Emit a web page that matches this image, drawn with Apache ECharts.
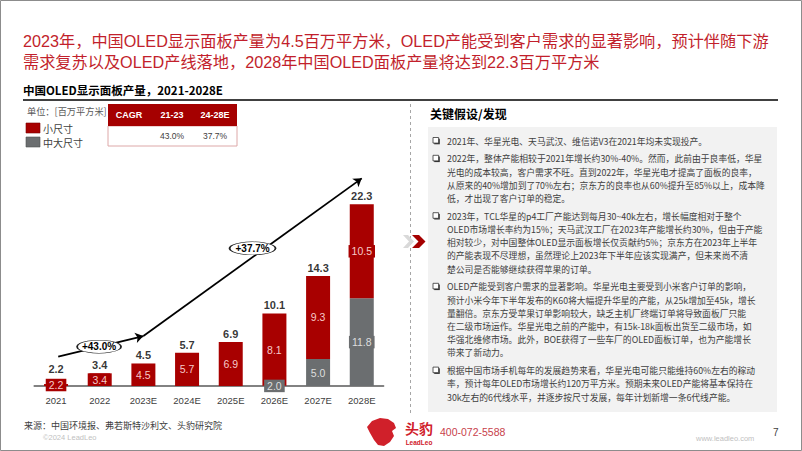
<!DOCTYPE html>
<html><head><meta charset="utf-8">
<script src="https://cdn.jsdelivr.net/npm/echarts@6/dist/echarts.min.js"></script>
<style>html,body{margin:0;padding:0;background:#fff}#c{width:802px;height:451px}</style>
</head><body><div id="c"></div>
<script>
// ---- data ----
const categories = ['2021','2022','2023E','2024E','2025E','2026E','2027E','2028E'];
const smallSize = [2.2, 3.4, 4.5, 5.7, 6.9, 8.1, 9.3, 10.5];       // 小尺寸
const midLargeSize = [null, null, null, null, null, 2.0, 5.0, 11.8]; // 中大尺寸
const totals = [2.2, 3.4, 4.5, 5.7, 6.9, 10.1, 14.3, 22.3];
const cagrHeaders = ['CAGR', '21-23', '24-28E'];
const cagrValues = ['', '43.0%', '37.7%'];
const growthLabels = ['+43.0%', '+37.7%'];

const titleLines = [
  '2023年，中国OLED显示面板产量为4.5百万平方米，OLED产能受到客户需求的显著影响，预计伴随下游',
  '需求复苏以及OLED产线落地，2028年中国OLED面板产量将达到22.3百万平方米'
];
const subTitle = '中国OLED显示面板产量，2021-2028E';
const paras = [
  ['2021年、华星光电、天马武汉、维信诺V3在2021年均未实现投产。'],
  ['2022年，整体产能相较于2021年增长约30%-40%。然而，此前由于良率低，华星',
   '光电的成本较高，客户需求不旺。直到2022年，华星光电才提高了面板的良率，',
   '从原来的40%增加到了70%左右；京东方的良率也从60%提升至85%以上，成本降',
   '低，才出现了客户订单的稳定。'],
  ['2023年，TCL华星的p4工厂产能达到每月30~40k左右，增长幅度相对于整个',
   'OLED市场增长率约为15%；天马武汉工厂在2023年产能增长约30%，但由于产能',
   '相对较少，对中国整体OLED显示面板增长仅贡献约5%；京东方在2023年上半年',
   '的产能表现不尽理想，虽然理论上2023年下半年应该实现满产，但未来尚不清',
   '楚公司是否能够继续获得苹果的订单。'],
  ['OLED产能受到客户需求的显著影响。华星光电主要受到小米客户订单的影响，',
   '预计小米今年下半年发布的K60将大幅提升华星的产能，从25k增加至45k，增长',
   '量翻倍。京东方受苹果订单影响较大，缺乏主机厂终端订单将导致面板厂只能',
   '在二级市场运作。华星光电之前的产能中，有15k-18k面板出货至二级市场，如',
   '华强北维修市场。此外，BOE获得了一些车厂的OLED面板订单，也为产能增长',
   '带来了新动力。'],
  ['根据中国市场手机每年的发展趋势来看，华星光电可能只能维持60%左右的稼动',
   '率，预计每年OLED市场增长约120万平方米。预期未来OLED产能将基本保持在',
   '30k左右的6代线水平，并逐步按尺寸发展，每年计划新增一条6代线产能。']
];

// ---- styles ----
const RED = '#A80000', GREY = '#6B6E70', TRED = '#C21F2C';
const CJK = '"Noto Sans CJK SC","Liberation Sans",sans-serif';
const LAT = '"Liberation Sans","Noto Sans CJK SC",sans-serif';

function txt(x, y, text, o) {
  o = o || {};
  return { type: 'text', silent: true, z: 10, style: {
    x: x, y: y, text: text, fill: o.fill || '#404040',
    fontSize: o.size || 10, fontFamily: o.family || CJK, fontWeight: o.weight || 'normal',
    fontStyle: o.style || 'normal',
    align: o.align || 'left', verticalAlign: o.va || 'middle', lineHeight: o.lh
  }};
}

const g = [];
// page border
g.push({ type: 'rect', silent: true, shape: { x: 0.5, y: 0.5, width: 801, height: 450 }, style: { fill: 'none', stroke: '#8C8C8C', lineWidth: 1 } });
// title
g.push(txt(23, 41, titleLines[0], { fill: TRED, size: 16.2, family: LAT }));
g.push(txt(23, 62, titleLines[1], { fill: TRED, size: 16.2, family: LAT }));
g.push(txt(23, 90, subTitle, { fill: '#000', size: 11.5, weight: 'bold' }));
g.push({ type: 'line', silent: true, shape: { x1: 23, y1: 100, x2: 778, y2: 100 }, style: { stroke: '#000', lineWidth: 1.5 } });
// unit + legend
g.push(txt(27, 111, '单位：[百万平方米]', { size: 9.2, fill: '#595959' }));
g.push({ type: 'rect', silent: true, shape: { x: 26, y: 123, width: 14, height: 10 }, style: { fill: RED, stroke: '#7a0000', lineWidth: 0.6 } });
g.push({ type: 'rect', silent: true, shape: { x: 26, y: 137, width: 14, height: 10 }, style: { fill: GREY, stroke: '#4d5052', lineWidth: 0.6 } });
g.push(txt(43, 128, '小尺寸', { size: 10 }));
g.push(txt(43, 142, '中大尺寸', { size: 10 }));
// CAGR table
g.push({ type: 'rect', silent: true, shape: { x: 108, y: 126, width: 129, height: 20 }, style: { fill: '#fff', stroke: '#DDA8A8', lineWidth: 1 } });
g.push({ type: 'rect', silent: true, shape: { x: 108, y: 104, width: 129, height: 22 }, style: { fill: '#A50000' } });
const colX = [129, 172, 215];
cagrHeaders.forEach((h, i) => g.push(txt(colX[i], 115, h, { fill: '#fff', size: 9, weight: 'bold', family: LAT, align: 'center' })));
cagrValues.forEach((v, i) => { if (v) g.push(txt(colX[i], 136, v, { fill: '#404040', size: 8.5, family: LAT, align: 'center' })); });

// right panel
g.push({ type: 'line', silent: true, shape: { x1: 410.5, y1: 104, x2: 410.5, y2: 413 }, style: { stroke: '#A6A6A6', lineWidth: 1, lineDash: [3, 3] } });
g.push(txt(430, 113, '关键假设/发现', { fill: '#000', size: 12, weight: 'bold' }));
g.push({ type: 'rect', silent: true, shape: { x: 428, y: 127, width: 349, height: 285 }, style: { fill: '#F2F2F2' } });
g.push({ type: 'polygon', silent: true, shape: { points: [[403, 235], [408, 235], [414, 241.5], [408, 248], [403, 248], [409, 241.5]] }, style: { fill: '#D9D9D9' } });
g.push({ type: 'polygon', silent: true, shape: { points: [[412, 235], [419, 235], [425.5, 241.5], [419, 248], [412, 248], [418.5, 241.5]] }, style: { fill: '#A50000' } });
const LH = 13.2, GAP = 4.6;
let py = 141;
paras.forEach(lines => {
  g.push({ type: 'rect', silent: true, z: 10, shape: { x: 434.2, y: py - 2.3, width: 5.6, height: 5.6 }, style: { fill: '#333' } });
  g.push({ type: 'rect', silent: true, z: 11, shape: { x: 433, y: py - 3.5, width: 5.6, height: 5.6 }, style: { fill: '#fff', stroke: '#333', lineWidth: 0.8 } });
  g.push(txt(447, py - LH / 2, lines.join('\n'), { size: 8.8, va: 'top', lh: LH, fill: '#404040' }));
  py += lines.length * LH + GAP;
});

// footer
g.push(txt(24, 425, '来源：中国环境报、弗若斯特沙利文、头豹研究院', { size: 9, fill: '#404040' }));
g.push(txt(43, 437, '©2024 LeadLeo', { size: 7.5, fill: '#BFBFBF', family: LAT }));
g.push({ type: 'polygon', silent: true, shape: { points: [[372, 421], [380, 418], [388, 419], [394, 423], [396, 428], [392, 431], [394, 436], [390, 442], [384, 446], [378, 445], [374, 440], [370, 433], [367, 427]] }, style: { fill: '#D0202A' } });
g.push(txt(419, 428, '头豹', { fill: '#D0202A', size: 14, weight: 'bold', align: 'center' }));
g.push(txt(419, 442, 'LeadLeo', { fill: '#D0202A', size: 6.5, weight: 'bold', family: LAT, align: 'center' }));
g.push(txt(440, 432, '400-072-5588', { fill: '#C8414B', size: 10.5, family: LAT }));
g.push(txt(696, 438, 'www.leadleo.com', { fill: '#BFBFBF', size: 7.5, family: LAT }));
g.push(txt(773, 432, '7', { fill: '#404040', size: 10, family: LAT }));

// ---- chart ----
const fmt1 = p => (Array.isArray(p.value) ? p.value[1] : p.value).toFixed(1);
const segLabel = (bg, col) => ({
  show: true, position: 'inside', color: col, fontSize: 10.5, fontFamily: LAT,
  backgroundColor: bg, padding: [1, 3], formatter: fmt1
});
const chart = echarts.init(document.getElementById('c'), null, { renderer: 'svg' });
chart.setOption({
  animation: false,
  backgroundColor: '#fff',
  grid: { left: 34.2, right: 418.4, top: 171.3, bottom: 65 },
  xAxis: [
    { type: 'category', data: categories,
      axisLine: { lineStyle: { color: '#595959', width: 1.5 } }, axisTick: { show: false },
      axisLabel: { color: '#404040', fontSize: 9.5, fontFamily: LAT, margin: 10 } },
    { type: 'value', min: -0.5, max: 7.5, show: false }
  ],
  yAxis: { type: 'value', min: 1.98, max: 26, show: false },
  series: [
    { name: '中大尺寸', type: 'bar', stack: 'p', barWidth: 24, data: midLargeSize,
      itemStyle: { color: GREY }, label: segLabel(GREY, '#DEDEDE'), z: 2 },
    { name: '小尺寸', type: 'bar', stack: 'p', barWidth: 24, data: smallSize,
      itemStyle: { color: RED }, label: segLabel(RED, '#F6CACA'), z: 2 },
    { name: 'total', type: 'scatter', data: totals.map((v, i) => i === 0 ? { value: v, label: { distance: 9 } } : v),
      symbolSize: 1, itemStyle: { color: 'rgba(0,0,0,0)' }, z: 3,
      label: { show: true, position: 'top', distance: 2, color: '#000', fontSize: 11, fontWeight: 'bold', fontFamily: LAT, formatter: fmt1 } },
    { name: 'trend', type: 'line', xAxisIndex: 1, data: [], z: 4,
      markLine: { silent: true, z: 4, symbol: ['none', 'arrow'], symbolSize: 8,
        lineStyle: { color: '#000', width: 1.8, type: 'solid' }, label: { show: false },
        data: [
          [{ coord: [0.05, 5.26] }, { coord: [2, 7.57] }],
          [{ coord: [2, 7.57] }, { coord: [7, 25.21] }]
        ] },
      markPoint: { silent: true, z: 6, symbol: 'circle', symbolSize: [44, 13],
        itemStyle: { color: '#fff', borderColor: '#222', borderWidth: 1 },
        label: { show: true, position: 'inside', formatter: p => p.name, color: '#000', fontSize: 10, fontWeight: 'bold', fontFamily: LAT },
        data: [
          { name: growthLabels[0], coord: [0.985, 6.38] },
          { name: growthLabels[1], coord: [4.5, 17.38], symbolSize: [46, 13] }
        ] } }
  ],
  graphic: g
});
</script></body></html>
